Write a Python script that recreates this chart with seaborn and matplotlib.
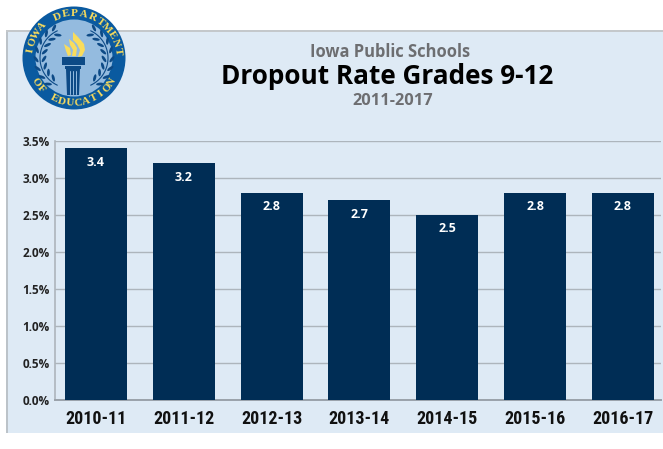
import numpy as np
import pandas as pd
import matplotlib
matplotlib.use('Agg')
import matplotlib.pyplot as plt
from matplotlib.patches import Circle, Rectangle, Polygon, Ellipse
from matplotlib import font_manager
import seaborn as sns

years = ['2010-11', '2011-12', '2012-13', '2013-14', '2014-15', '2015-16', '2016-17']
rates = [3.4, 3.2, 2.8, 2.7, 2.5, 2.8, 2.8]
y_ticks = [0, 0.5, 1.0, 1.5, 2.0, 2.5, 3.0, 3.5]
y_labels = ['0.0%', '0.5%', '1.0%', '1.5%', '2.0%', '2.5%', '3.0%', '3.5%']

W, H = 663, 449
PANEL = '#deeaf5'
NAVY = '#002d55'
GRID = '#adb5bc'

sns.set_theme(style='white')
plt.rcParams['font.family'] = ['Open Sans', 'DejaVu Sans']

# use a condensed face for the year labels if there is one
names = {f.name for f in font_manager.fontManager.ttflist}
narrow, narrow_size = 'Liberation Sans', 11.5
for cand in ['Roboto Condensed', 'Open Sans Condensed', 'Noto Sans Condensed', 'Liberation Sans Narrow']:
    if cand in names:
        narrow, narrow_size = cand, 13
        break

fig = plt.figure(figsize=(W / 100, H / 100), dpi=100, facecolor='white')

# background layer in pixel coords
bg = fig.add_axes([0, 0, 1, 1], zorder=0)
bg.set_xlim(0, W)
bg.set_ylim(H, 0)
bg.axis('off')
bg.add_patch(Rectangle((6, 30), W - 6, 403, fc=PANEL, ec='none'))
bg.add_patch(Rectangle((6, 30), 2, 403, fc='#bcc3c9', ec='none'))
bg.add_patch(Rectangle((6, 30), W - 6, 2, fc='#c4c8cb', ec='none'))

bg.text(390, 52, 'Iowa Public Schools', ha='center', va='center', fontsize=11.9,
        fontweight='bold', color='#6d6e71')
bg.text(387, 77, 'Dropout Rate Grades 9-12', ha='center', va='center', fontsize=18.8,
        fontweight='bold', color='#000000')
bg.text(393, 101, '2011-2017', ha='center', va='center', fontsize=11.8,
        fontweight='bold', color='#6d6e71')

# bars
ax = fig.add_axes([55 / W, 1 - 400 / H, (661 - 55) / W, (400 - 141) / H], zorder=1)
ax.patch.set_alpha(0)
df = pd.DataFrame({'year': years, 'rate': rates})
sns.barplot(data=df, x='year', y='rate', color=NAVY, saturation=1, width=0.706,
            edgecolor='none', linewidth=0, ax=ax, zorder=3)
ax.set_xlim(-0.467, 6.435)
ax.set_ylim(0, 3.5)
ax.set_yticks(y_ticks)
ax.set_yticklabels(y_labels, fontsize=8.5, fontweight='bold', color='#222222')
ax.set_xlabel('')
ax.set_ylabel('')
ax.tick_params(axis='both', length=0)
ax.tick_params(axis='y', pad=4)
ax.tick_params(axis='x', pad=7)
for lab in ax.get_xticklabels():
    lab.set_fontfamily(narrow)
    lab.set_fontweight('bold')
    lab.set_fontsize(narrow_size)
    lab.set_color('#111111')
ax.yaxis.grid(True, color=GRID, lw=1.0, zorder=0)
ax.set_axisbelow(True)
sns.despine(ax=ax, top=True, right=True, bottom=False, left=False)
ax.spines['left'].set_color(GRID)
ax.spines['left'].set_linewidth(1.2)
ax.spines['bottom'].set_color('#9aa2aa')
ax.spines['bottom'].set_linewidth(1.4)
for i, v in enumerate(rates):
    ax.annotate(f'{v:.1f}', (i, v), xytext=(0, -10), textcoords='offset points',
                ha='center', va='center', color='white', fontsize=9, fontweight='bold')

# logo on top
lg = fig.add_axes([0, 0, 1, 1], zorder=2)
lg.set_xlim(0, W)
lg.set_ylim(H, 0)
lg.axis('off')
cx, cy = 74, 58
BLUE = '#0a5aa0'
DARK = '#0d4a86'
GOLD = '#f9dc5c'
lg.add_patch(Circle((cx, cy), 51.5, fc=BLUE, ec='none'))
lg.add_patch(Circle((cx, cy), 38.5, fc='#94bbdf', ec='none'))


def arc_text(s, start, end, r, top=True):
    angs = np.linspace(start, end, len(s))
    for c, a in zip(s, angs):
        t = np.radians(a)
        x = cx + r * np.sin(t)
        y = cy - r * np.cos(t)
        rot = -a if top else 180 - a
        lg.text(x, y, c, ha='center', va='center', rotation=rot, rotation_mode='anchor',
                fontsize=8, fontweight='bold', family='Liberation Serif', color=GOLD)


arc_text('IOWA DEPARTMENT', -80, 82, 44.5)
arc_text('OF EDUCATION', 238, 122, 45, top=False)

# torch
lg.add_patch(Rectangle((62, 57), 23, 8, fc=DARK, ec='none'))
lg.add_patch(Rectangle((65, 66), 16, 3, fc=DARK, ec='none'))
lg.add_patch(Polygon([[66, 69], [80, 69], [79, 95], [67, 95]], fc=DARK, ec='none'))
for xx in (70, 73, 76):
    lg.plot([xx, xx], [71, 94], color='#94bbdf', lw=0.7)
lg.add_patch(Polygon([[73, 32], [78, 37], [84, 44], [85, 50], [82, 56], [78, 57], [80, 50],
                      [77, 44], [73, 40]], fc=GOLD, ec='none'))
lg.add_patch(Polygon([[69, 39], [74, 43], [77, 48], [76, 56], [72, 56], [73, 50], [70, 45]],
                     fc=GOLD, ec='none'))
lg.add_patch(Polygon([[64, 44], [70, 48], [71, 55], [68, 56], [66, 51]], fc=GOLD, ec='none'))

# wreath
for side in (-1, 1):
    arc = np.radians(np.linspace(25, 155, 40))
    lg.plot(cx + side * (4 + 30 * np.sin(arc)), cy - 30 * np.cos(arc), color=DARK, lw=0.8)
    for a in range(28, 156, 16):
        t = np.radians(a)
        for dr, tilt in ((4, 35), (-4, -35)):
            x = cx + side * (4 + (30 + dr) * np.sin(t))
            y = cy - (30 + dr) * np.cos(t)
            # leaf follows the branch, tilted away from it
            lg.add_patch(Ellipse((x, y), 7.5, 2.8, angle=side * (a + tilt), fc=DARK, ec='none'))

fig.savefig('out.png', dpi=100, facecolor='white')
